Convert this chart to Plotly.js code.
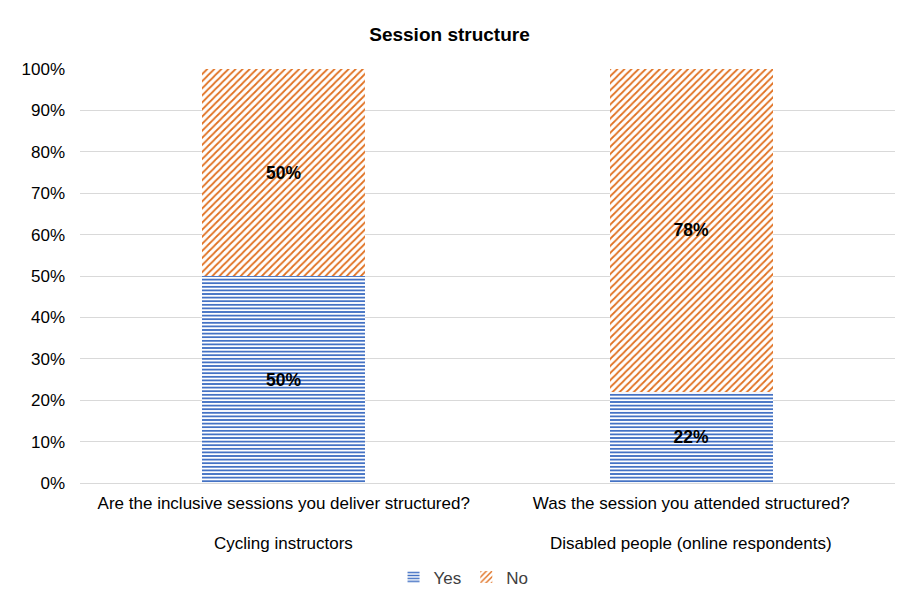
<!DOCTYPE html>
<html>
<head>
<meta charset="utf-8">
<script src="https://cdn.plot.ly/plotly-3.0.1.min.js"></script>
<style>html,body{margin:0;padding:0;background:#fff;}#chart{width:899px;height:599px;}</style>
</head>
<body>
<div id="chart"></div>
<script>
const groups = ["Cycling instructors", "Disabled people (online respondents)"];
const questions = ["Are the inclusive sessions you deliver structured?", "Was the session you attended structured?"];
const yesValues = [0.50, 0.22];
const noValues = [0.50, 0.78];
const seriesNames = ["Yes", "No"];

const fmt = v => Math.round(v * 100) + "%";
const FONT = "Liberation Sans, Arial, sans-serif";

const traces = [
  {
    type: "bar", name: seriesNames[0], x: questions, y: yesValues,
    text: yesValues.map(fmt), textposition: "inside", insidetextanchor: "middle",
    textfont: {family: FONT, size: 17.5, color: "#000", weight: "bold"},
    marker: {color: "#ffffff", line: {width: 0},
      pattern: {shape: "-", fgcolor: "#4472C4", bgcolor: "#ffffff", size: 3.6, solidity: 0.5}}
  },
  {
    type: "bar", name: seriesNames[1], x: questions, y: noValues,
    text: noValues.map(fmt), textposition: "inside", insidetextanchor: "middle",
    textfont: {family: FONT, size: 17.5, color: "#000", weight: "bold"},
    marker: {color: "#ffffff", line: {width: 0},
      pattern: {shape: "/", fgcolor: "#E07020", bgcolor: "#ffffff", size: 5, solidity: 0.35}}
  }
];

const annotations = groups.map((g, i) => ({
  x: questions[i], xref: "x", y: -0.145, yref: "paper", yanchor: "middle",
  text: g, showarrow: false, font: {family: FONT, size: 17, color: "#000"}
}));

const layout = {
  width: 899, height: 599,
  margin: {l: 80, r: 4, t: 69, b: 113},
  paper_bgcolor: "#fff", plot_bgcolor: "#fff",
  font: {family: FONT, size: 17, color: "#000"},
  title: {text: "<b>Session structure</b>", x: 0.5, xanchor: "center", y: 0.943, yanchor: "middle",
    font: {size: 19, color: "#000"}},
  barmode: "stack", bargap: 0.6,
  showlegend: true,
  legend: {orientation: "h", x: 0.4706, xanchor: "center", y: -0.228, yanchor: "middle",
    font: {size: 17, color: "#404040"}, traceorder: "normal"},
  annotations: annotations,
  xaxis: {type: "category", showgrid: false, automargin: false,
    showline: true, linecolor: "#D9D9D9", linewidth: 1, ticks: "", ticklabelstandoff: 5,
    tickfont: {size: 17, color: "#000"}},
  yaxis: {range: [0, 1], dtick: 0.1, tickformat: ".0%", showgrid: true, gridcolor: "#D9D9D9",
    zeroline: false, showline: false, ticks: "", ticklabelstandoff: 14, automargin: false,
    tickfont: {size: 17, color: "#000"}}
};

Plotly.newPlot("chart", traces, layout, {displayModeBar: false, staticPlot: true});
</script>
</body>
</html>
